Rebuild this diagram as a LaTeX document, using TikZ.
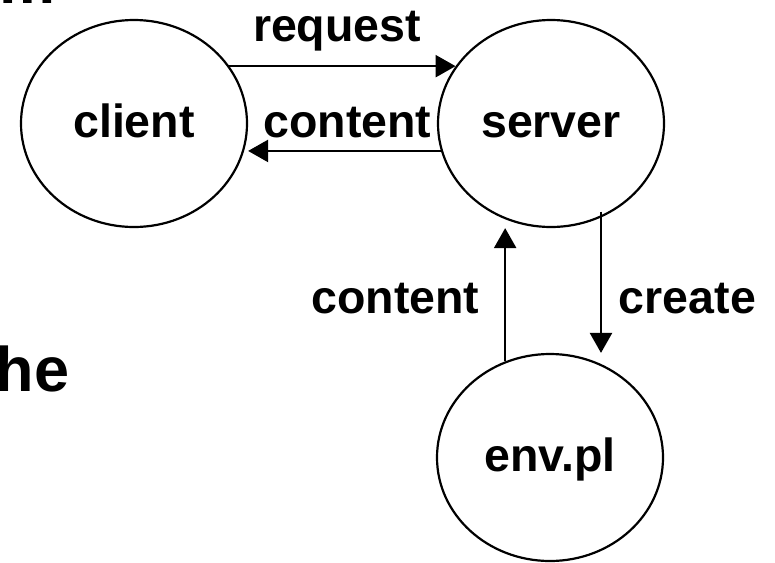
\documentclass[tikz,border=0pt]{standalone}
\usepackage{fontspec}
\setmainfont{Liberation Sans}
\usetikzlibrary{shapes.geometric,arrows.meta}

\begin{document}
\begin{tikzpicture}[x=1pt,y=-1pt,
  proc/.style={ellipse,draw,line width=2.2pt,minimum width=226pt,minimum height=207pt,
    inner sep=0pt,text height=33pt,text depth=6pt,font=\fontsize{46.5}{50}\selectfont\bfseries},
  lbl/.style={inner sep=0pt,anchor=base,font=\fontsize{46.5}{50}\selectfont\bfseries},
  big/.style={inner sep=0pt,anchor=base west,font=\fontsize{63}{70}\selectfont\bfseries},
  flow/.style={line width=2.4pt,-{Triangle[length=20pt,width=22pt]}}]
  \clip (0,0) rectangle (775,562);
  \fill[white] (0,0) rectangle (775,562);

  % fragments of the surrounding slide text
  \node[big] (frag1) at (-1,3) {m};
  \node[big] (frag2) at (-4.5,391) {he};

  % processes
  \node[proc] (client) at (134,123.5) {client};
  \node[proc] (server) at (551,123.5) {server};
  \node[proc] (env) at (550,457.5) {env.pl};

  % client <-> server
  \draw[flow] (client.31) -- (server.149);
  \draw[flow] (server.194) -- ([xshift=4pt]server.194 -| client.-14);
  \node[lbl] (reqlbl) at (337,41) {request};
  \node[lbl] (contlbl1) at (347.5,137) {content};

  % server <-> env.pl
  \draw[flow] ([yshift=6pt]server.-62) -- (server.-62 |- env.north);
  \draw[flow] (env.115) -- (env.115 |- server.south);
  \node[lbl] (contlbl2) at (395.5,313) {content};
  \node[lbl] (createlbl) at (687.5,313) {create};
\end{tikzpicture}
\end{document}
